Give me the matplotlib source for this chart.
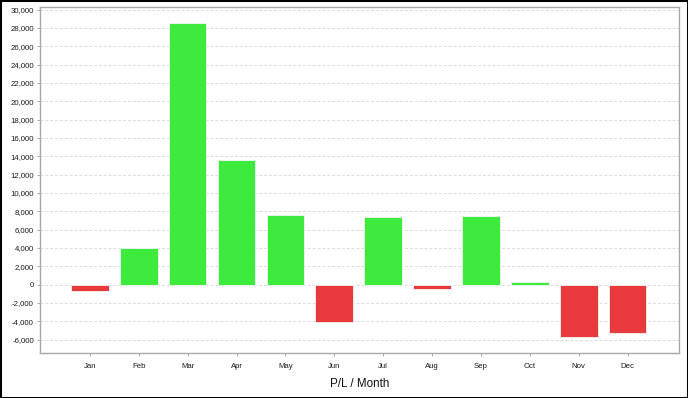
import matplotlib
matplotlib.use('Agg')
from matplotlib import pyplot as plt
from matplotlib.patches import Rectangle
from matplotlib.ticker import FuncFormatter, MultipleLocator

plt.rcParams['font.family'] = ['Liberation Sans', 'DejaVu Sans']

# P/L per month
months = ['Jan', 'Feb', 'Mar', 'Apr', 'May', 'Jun',
          'Jul', 'Aug', 'Sep', 'Oct', 'Nov', 'Dec']
profit = [-650, 4050, 28550, 13560, 7600, -4100,
          7410, -440, 7480, 330, -5740, -5230]

green = '#3deb3d'
red = '#e8393c'

fig = plt.figure(figsize=(6.88, 3.98), dpi=100)
ax = fig.add_axes([39.5 / 688, 1 - 353 / 398, (679 - 39.5) / 688, (353 - 7) / 398])

positions = list(range(len(months)))
colors = [green if v >= 0 else red for v in profit]
ax.bar(positions, profit, width=0.77, color=colors,
       edgecolor='#f4f4f4', linewidth=0.6, zorder=3)

ax.set_xlim(-1.03, 12.05)
ax.set_ylim(-7450, 30280)
ax.set_xticks(positions)
ax.set_xticklabels(months)
ax.yaxis.set_major_locator(MultipleLocator(2000))
ax.yaxis.set_major_formatter(FuncFormatter(lambda v, p: '{:,.0f}'.format(v)))

ax.grid(axis='y', color='#dcdcdc', linestyle=(0, (3, 2)), linewidth=0.7, zorder=0)
for s in ax.spines.values():
    s.set_color('#a8a8a8')
    s.set_linewidth(1.0)

ax.tick_params(axis='both', labelsize=5.6, colors='#a8a8a8', labelcolor='#1a1a1a',
               length=2, width=0.7, pad=2)
ax.tick_params(axis='x', pad=5)
ax.set_xlabel('P/L / Month', fontsize=8.4, color='#111111', labelpad=6)

# black frame around the whole figure
fig.patches.append(Rectangle((0, 0), 1, 1, transform=fig.transFigure,
                             fill=False, edgecolor='black', linewidth=2.2))

fig.savefig('out.png', dpi=100)
